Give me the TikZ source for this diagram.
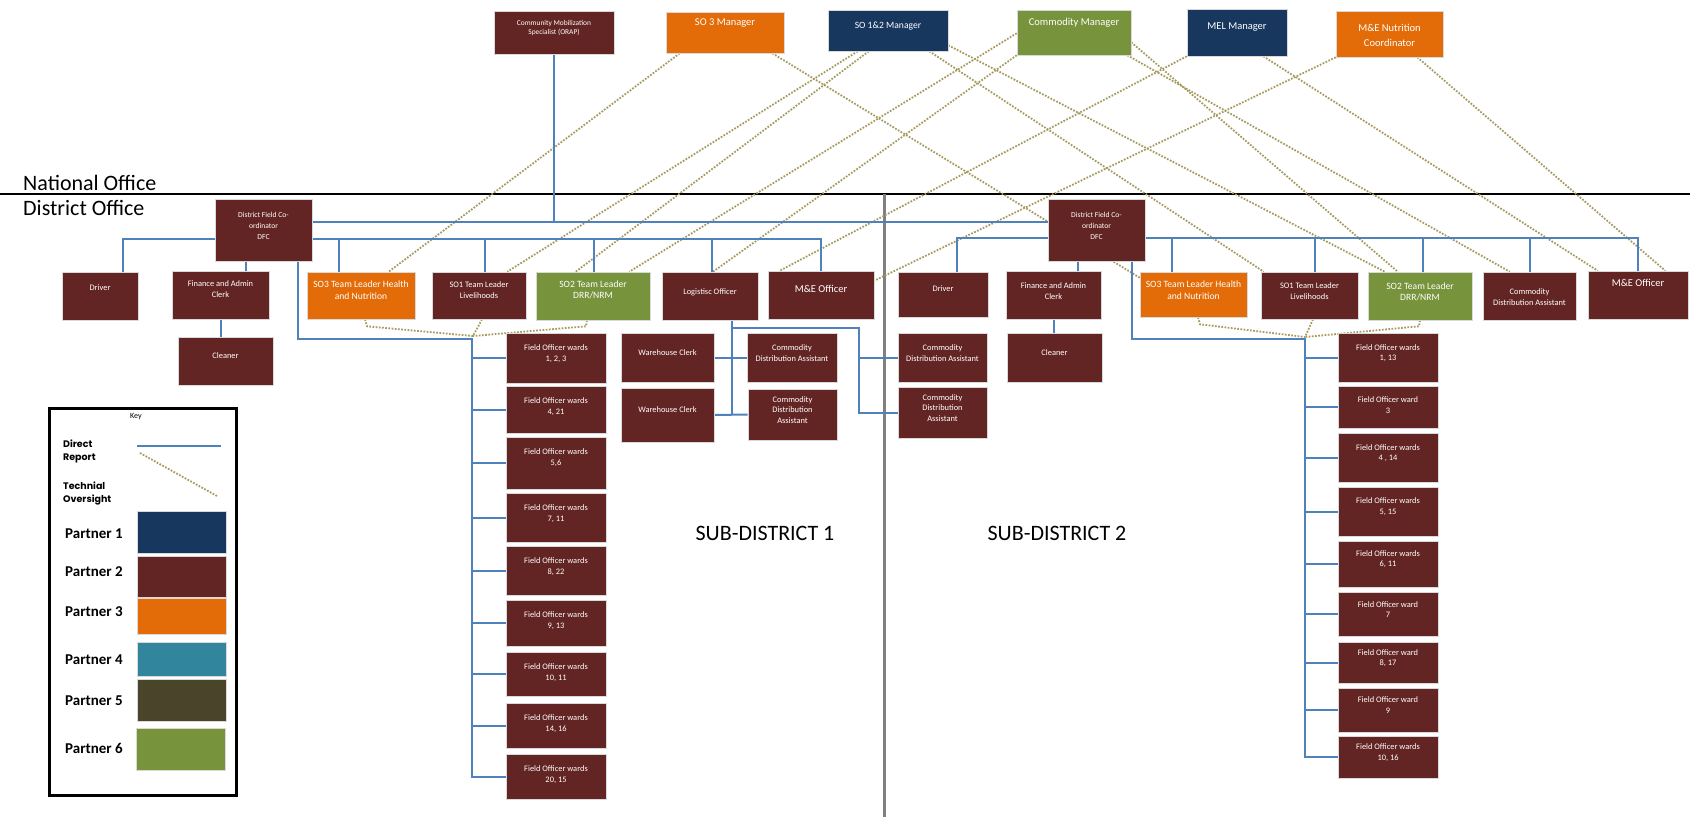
\documentclass[tikz,border=0pt]{standalone}
\usepackage{fontspec}
\setmainfont{Carlito}
\newfontfamily\keyfont{Poppins}
\usetikzlibrary{calc}
\pgfdeclarelayer{bg}
\pgfsetlayers{bg,main}

\definecolor{maroon}{HTML}{632523}
\definecolor{navy}{HTML}{17375E}
\definecolor{orng}{HTML}{E36C09}
\definecolor{leaf}{HTML}{77933C}
\definecolor{tealp}{HTML}{31859C}
\definecolor{olivep}{HTML}{4A452A}
\definecolor{repblue}{HTML}{4F81BD}
\definecolor{techgold}{HTML}{A69A5E}
\definecolor{boxedge}{HTML}{D9D9D9}
\definecolor{divgray}{HTML}{808080}

\tikzset{
  box/.style={draw=boxedge, line width=0.6pt, inner sep=0pt},
  txt/.style={text=white, align=center, inner sep=0pt},
  tx/.style={font=\fontsize{7.4}{9}\selectfont},
  txb/.style={font=\fontsize{7.6}{11}\selectfont},
  ts/.style={font=\fontsize{8.4}{10.5}\selectfont},
  tm/.style={font=\fontsize{9.6}{11.5}\selectfont},
  tl/.style={font=\fontsize{10.5}{13}\selectfont},
  tlw/.style={font=\fontsize{10.5}{15}\selectfont},
  rep/.style={draw=repblue, line width=2pt},
  tech/.style={draw=techgold, line width=1.8pt, dash pattern=on 1.7pt off 1.5pt},
  swatch/.style={draw=boxedge, line width=0.6pt, inner sep=0pt, minimum width=89, minimum height=#1},
  partner/.style={anchor=west, inner sep=0pt, font=\bfseries\fontsize{15}{18}\selectfont},
  keylabel/.style={anchor=west, align=left, inner sep=0pt, font=\keyfont\bfseries\fontsize{9.5}{13}\selectfont},
}

% \orgbox{name}{x1}{y1}{x2}{y2}{fill}{text style}{text y}{text}
\newcommand\orgbox[9]{%
  \node[box, fill=#6, minimum width={(#4)-(#2)}, minimum height={(#5)-(#3)}]
    (#1) at ({((#2)+(#4))/2},{((#3)+(#5))/2}) {};
  \node[txt,#7] (#1-t) at ({((#2)+(#4))/2},#8) {#9};
}

\begin{document}
\begin{tikzpicture}[x=1pt,y=-1pt]
\useasboundingbox (0,0) rectangle (1690,817);

% ---------- national office ----------
\orgbox{cms}{494}{11}{614}{54}{maroon}{tx}{28.5}{Community Mobilization\\Specialist (ORAP)}
\orgbox{so3m}{666}{12}{784}{53}{orng}{tl}{23}{SO 3 Manager}
\orgbox{so12m}{828}{10}{948}{51}{navy}{tm}{26}{SO 1\&2 Manager}
\orgbox{comm}{1017}{10}{1131}{55}{leaf}{tl}{23}{Commodity Manager}
\orgbox{melm}{1187}{9}{1287}{56}{navy}{tl}{27}{MEL Manager}
\orgbox{mnc}{1336}{11}{1443}{57}{orng}{tlw}{35.5}{M\&E Nutrition\\Coordinator}

\node[anchor=base west, inner sep=0pt, font=\fontsize{22}{26}\selectfont] (natl) at (23,190) {National Office};
\node[anchor=base west, inner sep=0pt, font=\fontsize{22}{26}\selectfont] (dist) at (23,215) {District Office};

% ---------- sub-district 1 ----------
\orgbox{dfc1}{215}{199}{312}{261}{maroon}{txb}{226}{District Field Co-\\ordinator\\DFC}
\orgbox{drv1}{62}{272}{138}{320}{maroon}{ts}{288}{Driver}
\orgbox{fin1}{172}{271}{269}{319}{maroon}{ts}{289}{Finance and Admin\\Clerk}
\orgbox{so3tl1}{307}{272}{415}{319}{orng}{tm}{290}{SO3 Team Leader Health\\and Nutrition}
\orgbox{so1tl1}{432}{272}{526}{319}{maroon}{ts}{290}{SO1 Team Leader\\Livelihoods}
\orgbox{so2tl1}{536}{272}{650}{320}{leaf}{tm}{290}{SO2 Team Leader\\DRR/NRM}
\orgbox{log1}{662}{272}{758}{320}{maroon}{ts}{292}{Logistisc Officer}
\orgbox{me1}{768}{271}{874}{319}{maroon}{tl}{289}{M\&E Officer}
\orgbox{cln1}{178}{337}{273}{385}{maroon}{ts}{356}{Cleaner}
\orgbox{wc1a}{621}{333}{714}{382}{maroon}{ts}{353}{Warehouse Clerk}
\orgbox{wc1b}{621}{388}{714}{442}{maroon}{ts}{410}{Warehouse Clerk}
\orgbox{cda1a}{747}{333}{837}{382}{maroon}{ts}{353}{Commodity\\Distribution Assistant}
\orgbox{cda1b}{748}{389}{837}{440}{maroon}{ts}{410}{Commodity\\Distribution\\Assistant}

\orgbox{fo1a}{506}{333}{606}{383}{maroon}{ts}{353.5}{Field Officer wards\\1, 2, 3}
\orgbox{fo1b}{506}{386}{606}{433}{maroon}{ts}{406.5}{Field Officer wards\\4, 21}
\orgbox{fo1c}{506}{437}{606}{489}{maroon}{ts}{457.5}{Field Officer wards\\5,6}
\orgbox{fo1d}{506}{493}{606}{542}{maroon}{ts}{513.5}{Field Officer wards\\7, 11}
\orgbox{fo1e}{506}{546}{606}{595}{maroon}{ts}{566.5}{Field Officer wards\\8, 22}
\orgbox{fo1f}{506}{600}{606}{646}{maroon}{ts}{620.5}{Field Officer wards\\9, 13}
\orgbox{fo1g}{506}{652}{606}{696}{maroon}{ts}{672.5}{Field Officer wards\\10, 11}
\orgbox{fo1h}{506}{703}{606}{748}{maroon}{ts}{723.5}{Field Officer wards\\14, 16}
\orgbox{fo1i}{506}{754}{606}{799}{maroon}{ts}{774.5}{Field Officer wards\\20, 15}

% ---------- sub-district 2 ----------
\orgbox{dfc2}{1048}{199}{1145}{261}{maroon}{txb}{226}{District Field Co-\\ordinator\\DFC}
\orgbox{drv2}{898}{272}{988}{317}{maroon}{ts}{289}{Driver}
\orgbox{fin2}{1006}{271}{1101}{319}{maroon}{ts}{291}{Finance and Admin\\Clerk}
\orgbox{so3tl2}{1140}{272}{1247}{317}{orng}{tm}{290}{SO3 Team Leader Health\\and Nutrition}
\orgbox{so1tl2}{1261}{272}{1358}{319}{maroon}{ts}{291}{SO1 Team Leader\\Livelihoods}
\orgbox{so2tl2}{1368}{272}{1472}{320}{leaf}{tm}{292}{SO2 Team Leader\\DRR/NRM}
\orgbox{cda2t}{1483}{272}{1576}{320}{maroon}{ts}{297}{Commodity\\Distribution Assistant}
\orgbox{me2}{1588}{271}{1688}{319}{maroon}{tl}{283}{M\&E Officer}
\orgbox{cln2}{1007}{333}{1102}{382}{maroon}{ts}{353}{Cleaner}
\orgbox{cda2a}{898}{333}{987}{382}{maroon}{ts}{353}{Commodity\\Distribution Assistant}
\orgbox{cda2b}{898}{387}{987}{438}{maroon}{ts}{408}{Commodity\\Distribution\\Assistant}

\orgbox{fo2a}{1338}{333}{1438}{382}{maroon}{ts}{353}{Field Officer wards\\1, 13}
\orgbox{fo2b}{1338}{386}{1438}{428}{maroon}{ts}{405}{Field Officer ward\\3}
\orgbox{fo2c}{1338}{433}{1438}{482}{maroon}{ts}{453}{Field Officer wards\\4 , 14}
\orgbox{fo2d}{1338}{487}{1438}{536}{maroon}{ts}{506.5}{Field Officer wards\\5, 15}
\orgbox{fo2e}{1338}{541}{1438}{587}{maroon}{ts}{559}{Field Officer wards\\6, 11}
\orgbox{fo2f}{1338}{592}{1438}{636}{maroon}{ts}{609.5}{Field Officer ward\\7}
\orgbox{fo2g}{1338}{642}{1438}{683}{maroon}{ts}{658}{Field Officer ward\\8, 17}
\orgbox{fo2h}{1338}{688}{1438}{732}{maroon}{ts}{705}{Field Officer ward\\9}
\orgbox{fo2i}{1338}{736}{1438}{778}{maroon}{ts}{752.5}{Field Officer wards\\10, 16}

\node[inner sep=0pt, font=\fontsize{22}{26}\selectfont] (sd1) at (765,533) {SUB-DISTRICT 1};
\node[inner sep=0pt, font=\fontsize{22}{26}\selectfont] (sd2) at (1057,533) {SUB-DISTRICT 2};

% ---------- key ----------
\node[draw, line width=3pt, minimum width=187, minimum height=387, inner sep=0pt] (key) at (142.5,601.5) {};
\node[inner sep=0pt, font=\fontsize{8}{10}\selectfont] (keyt) at (136,417) {Key};
\node[keylabel] (kdr) at (63,451) {Direct\\Report};
\node[keylabel] (kto) at (63,493.5) {Technial\\Oversight};
\coordinate (kb1) at (137,446); \coordinate (kb2) at (221,446);
\coordinate (kt1) at (140,453); \coordinate (kt2) at (217,496);
\draw[rep] (kb1) -- (kb2);
\draw[tech] (kt1) -- (kt2);
\node[swatch=42, fill=navy]   (p1) at (181.5,532) {};
\node[swatch=41, fill=maroon] (p2) at (181.5,576.5) {};
\node[swatch=36, fill=orng]   (p3) at (181.5,616) {};
\node[swatch=34, fill=tealp]  (p4) at (181.5,659) {};
\node[swatch=42, fill=olivep] (p5) at (181.5,700) {};
\node[swatch=42, fill=leaf]   (p6) at (180.5,749) {};
\node[partner] (p1l) at (65,534) {Partner 1};
\node[partner] (p2l) at (65,572) {Partner 2};
\node[partner] (p3l) at (65,612) {Partner 3};
\node[partner] (p4l) at (65,660) {Partner 4};
\node[partner] (p5l) at (65,701) {Partner 5};
\node[partner] (p6l) at (65,748) {Partner 6};

% ---------- connectors ----------
\begin{pgfonlayer}{bg}
  \fill[white] (0,0) rectangle (1690,817);
  % office divide and sub-district divide
  \coordinate (divL) at (0,194); \coordinate (divR) at (1690,194);
  \coordinate (sdT) at (884,194); \coordinate (sdB) at (884,817);
  \draw[line width=2.6pt] (divL) -- (divR);
  \draw[line width=3pt, divgray] (sdT) -- (sdB);

  % technical oversight from national office
  \draw[tech] ([xshift=14pt]so3m.south west) -- ([xshift=82pt]so3tl1.north west);
  \draw[tech] ([xshift=30pt]so12m.south west) -- ([xshift=-19pt]so1tl1.north east);
  \draw[tech] ([xshift=41pt]so12m.south west) -- ([xshift=40pt]so2tl1.north west);
  \draw[tech] ([yshift=22pt]comm.south west) -- ([xshift=-21pt]so2tl1.north east);
  \draw[tech] (comm.south west) -- ([xshift=3pt]log1.north);
  \draw[tech] (melm.south west) -- ([xshift=12pt]me1.north west);
  \draw[tech] (mnc.south west) -- ([yshift=-10pt]me1.north east);
  \draw[tech] ([xshift=-12pt]so3m.south east) -- ([yshift=-6pt]so3tl2.north west);
  \draw[tech] ([xshift=-19pt]so12m.south east) -- ([xshift=3pt]so1tl2.north west);
  \draw[tech] ([yshift=6pt]so12m.south east) -- ([xshift=17pt]so2tl2.north west);
  \draw[tech] ([yshift=13pt]comm.south east) -- ([xshift=30pt]so2tl2.north west);
  \draw[tech] ([xshift=-4pt]comm.south east) -- ([xshift=27pt]cda2t.north west);
  \draw[tech] ([xshift=-24pt]melm.south east) -- ([xshift=10pt]me2.north west);
  \draw[tech] ([xshift=-26pt]mnc.south east) -- ([xshift=-23pt]me2.north east);

  % technical oversight of field officers
  \coordinate (tj1) at (473,336);
  \draw[tech] ([xshift=4pt]so3tl1.south) -- ++(2,7) -- (tj1);
  \draw[tech] ([xshift=3pt]so1tl1.south) -- (tj1);
  \draw[tech] ([xshift=-6pt]so2tl1.south) -- ++(-1,6) -- (tj1);
  \coordinate (tj2) at (1305,337);
  \draw[tech] ([xshift=4.5pt]so3tl2.south) -- ++(2,7) -- (tj2);
  \draw[tech] ([xshift=3.5pt]so1tl2.south) -- (tj2);
  \draw[tech] (so2tl2.south) -- ++(-1,6) -- (tj2);

  % direct reports
  \draw[rep] (cms.south) -- ([yshift=8pt]cms.south |- dfc1.east);
  \draw[rep] ([yshift=8pt]dfc1.east) -- ([yshift=8pt]dfc2.west);

  % sub-district 1 line
  \draw[rep] ([xshift=23pt]drv1.north) -- ++(0,-33) coordinate (b1l) -- (b1l -| me1.north) -- (me1.north);
  \draw[rep] ([xshift=-22pt]so3tl1.north) -- ++(0,-33);
  \draw[rep] ([xshift=6pt]so1tl1.north) -- ++(0,-33);
  \draw[rep] ([xshift=1pt]so2tl1.north) -- ++(0,-33);
  \draw[rep] ([xshift=2pt]log1.north) -- ++(0,-33);
  \draw[rep] ([xshift=-17.5pt]dfc1.south) -- ([xshift=25.5pt]fin1.north);
  \draw[rep] (fin1.south) -- (fin1.south |- cln1.north);

  \coordinate (fo1bus) at (472,339);
  \draw[rep] ([xshift=34.5pt]dfc1.south) |- (fo1bus) -- (fo1bus |- fo1i.west) -- (fo1i.west);
  \foreach \f in {fo1a,fo1b,fo1c,fo1d,fo1e,fo1f,fo1g,fo1h}
    \draw[rep] (fo1bus |- \f.west) -- (\f.west);

  \coordinate (lgv) at ($(log1.south)+(22,0)$);
  \coordinate (lgh) at (859,328);
  \draw[rep] (lgv) -- (lgv |- wc1b.east);
  \draw[rep] (wc1a.east) -- (cda1a.west);
  \draw[rep] (wc1b.east) -- (cda1b.west);
  \draw[rep] (lgv |- lgh) -- (lgh) |- (cda2b.west);
  \draw[rep] (lgh |- cda2a.west) -- (cda2a.west);

  % sub-district 2 line
  \draw[rep] ([xshift=14pt]drv2.north) -- ++(0,-34) coordinate (b2l) -- (b2l -| me2.north) -- (me2.north);
  \draw[rep] ([xshift=-21.5pt]so3tl2.north) -- ++(0,-34);
  \draw[rep] ([xshift=5.5pt]so1tl2.north) -- ++(0,-34);
  \draw[rep] ([xshift=3pt]so2tl2.north) -- ++(0,-34);
  \draw[rep] (cda2t.north) -- ++(0,-34);
  \draw[rep] ([xshift=-18.5pt]dfc2.south) -- ([xshift=24.5pt]fin2.north);
  \draw[rep] (fin2.south) -- (fin2.south |- cln2.north);

  \coordinate (fo2bus) at (1305,339);
  \draw[rep] ([xshift=35.5pt]dfc2.south) |- (fo2bus) -- (fo2bus |- fo2i.west) -- (fo2i.west);
  \foreach \f in {fo2a,fo2b,fo2c,fo2d,fo2e,fo2f,fo2g,fo2h}
    \draw[rep] (fo2bus |- \f.west) -- (\f.west);
\end{pgfonlayer}
\end{tikzpicture}
\end{document}
